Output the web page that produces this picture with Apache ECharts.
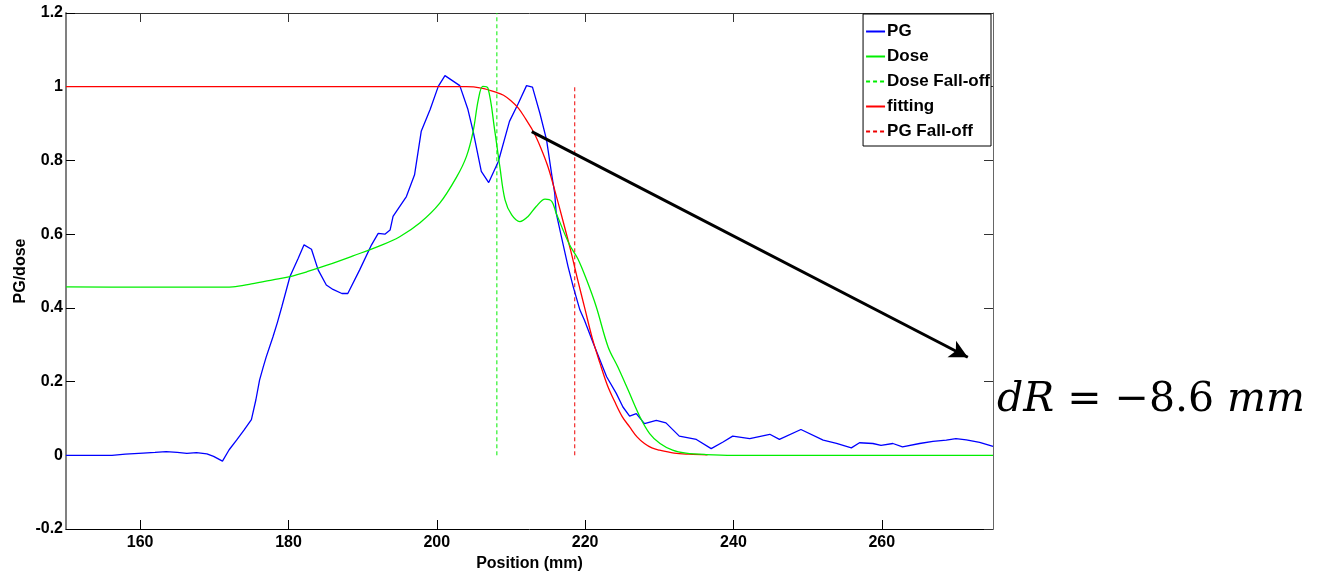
<!DOCTYPE html>
<html>
<head>
<meta charset="utf-8">
<script src="https://cdn.jsdelivr.net/npm/echarts@6/dist/echarts.min.js"></script>
<style>
html,body{margin:0;padding:0;background:#fff;}
#chart{width:1321px;height:572px;}
</style>
</head>
<body>
<div id="chart"></div>
<script>
// ---- data ----
const xTicks = [160, 180, 200, 220, 240, 260];
const seriesNames = ['PG', 'Dose', 'Dose Fall-off', 'fitting', 'PG Fall-off'];

const pgData = [[150,0],[156.2,0],[158,0.003],[160.4,0.006],[162,0.008],[163.5,0.01],[165,0.008],[166.3,0.005],[167.6,0.007],[169,0.004],[169.9,-0.003],[171.1,-0.016],[172,0.015],[173,0.041],[174,0.068],[175,0.097],[175.6,0.15],[176.1,0.204],[176.6,0.24],[177,0.267],[177.9,0.321],[178.5,0.36],[179.1,0.403],[180.2,0.485],[181.3,0.534],[182.1,0.571],[183.1,0.559],[184,0.503],[185.1,0.462],[186,0.45],[187.2,0.439],[188,0.439],[189.6,0.503],[191.2,0.571],[192.1,0.602],[193,0.6],[193.7,0.611],[194.1,0.648],[195.9,0.702],[197,0.761],[197.9,0.879],[199.1,0.938],[200.2,1.001],[201.1,1.03],[203.1,1.003],[204.2,0.938],[204.9,0.879],[206,0.77],[207,0.74],[208.3,0.797],[209.8,0.906],[211,0.955],[212.1,1.003],[212.9,0.999],[213.9,0.928],[214.8,0.856],[215.5,0.761],[215.9,0.711],[216.1,0.657],[217,0.575],[217.7,0.512],[218.4,0.457],[219.3,0.394],[219.9,0.367],[221.1,0.304],[222.9,0.213],[224.2,0.168],[225.1,0.131],[226,0.106],[226.9,0.113],[228,0.086],[229.6,0.095],[230.9,0.088],[232.7,0.052],[235,0.043],[237,0.018],[238.6,0.036],[239.9,0.052],[242.2,0.045],[244.9,0.057],[246.2,0.043],[249.1,0.07],[252.1,0.041],[253.9,0.032],[255.9,0.02],[257,0.034],[258.8,0.032],[259.9,0.027],[261.5,0.032],[262.8,0.023],[265.1,0.032],[266.9,0.038],[268.7,0.041],[270,0.045],[271.4,0.042],[273.2,0.035],[275,0.024]];

const doseData = [[150,0.457],[160,0.456],[170,0.456],[172.5,0.457],[175,0.465],[177.9,0.476],[180.2,0.485],[182.5,0.498],[185.1,0.515],[188.7,0.541],[192.3,0.568],[195,0.593],[197.7,0.63],[200.4,0.684],[202.7,0.756],[204,0.811],[204.9,0.879],[205.6,0.965],[206.2,1.001],[206.9,0.996],[207.8,0.883],[208.5,0.783],[209.2,0.693],[210.1,0.652],[211.2,0.634],[212.3,0.648],[213.4,0.675],[214.6,0.695],[215.5,0.689],[216.1,0.657],[217.9,0.571],[219,0.534],[220.2,0.476],[221.5,0.403],[223.1,0.294],[224.4,0.24],[225.8,0.177],[227.4,0.104],[228.7,0.059],[230.1,0.032],[231.8,0.014],[233.6,0.006],[236.3,0.002],[240,0],[275,0]];

const fittingData = [[150,1],[204,1],[206,0.996],[208,0.985],[209,0.977],[210,0.962],[211,0.942],[212,0.912],[213,0.879],[214,0.835],[215,0.782],[216,0.712],[217,0.637],[218,0.56],[219,0.476],[220,0.395],[221,0.315],[222,0.25],[223,0.19],[224,0.145],[225,0.105],[226,0.077],[227,0.05],[228,0.032],[229,0.02],[230,0.014],[232,0.006],[234,0.003],[236.5,0.001]];

const doseFallOff = [[208.1,0],[208.1,1.2]];
const pgFallOff = [[218.6,0],[218.6,1]];

const arrowStart = [212.8, 0.878];
const arrowEnd = [271.6, 0.266];
const annotationParts = ['dR', ' = −8.6 ', 'mm'];

// ---- chart ----
const chart = echarts.init(document.getElementById('chart'), null, {renderer: 'canvas'});
const labelFont = {fontFamily: 'Liberation Sans', fontWeight: 'bold', fontSize: 16, color: '#000'};

const option = {
  backgroundColor: '#fff',
  animation: false,
  grid: {left: 66, right: 328, top: 13, bottom: 43, show: false, containLabel: false, outerBoundsMode: 'none'},
  legend: {
    data: seriesNames,
    orient: 'vertical',
    right: 330,
    top: 14,
    itemWidth: 19,
    itemHeight: 15,
    itemGap: 8,
    padding: [9, 1, 6, 2],
    backgroundColor: '#fff',
    borderColor: '#000',
    borderWidth: 1,
    borderRadius: 0,
    itemStyle: {opacity: 0},
    textStyle: {fontFamily: 'Liberation Sans', fontWeight: 'bold', fontSize: 17, color: '#000', padding: [0, 0, 0, -3], lineHeight: 15},
    selectedMode: false
  },
  xAxis: [{
    type: 'value', min: 150, max: 275,
    name: 'Position (mm)', nameLocation: 'middle', nameGap: 27,
    nameTextStyle: labelFont,
    axisLine: {show: true, onZero: false, lineStyle: {color: '#000', width: 1}},
    axisTick: {show: true, inside: true, length: 9, customValues: xTicks, lineStyle: {color: '#000'}},
    axisLabel: Object.assign({}, labelFont, {margin: 6, customValues: xTicks}),
    splitLine: {show: false}
  }, {
    type: 'value', min: 150, max: 275, position: 'top',
    axisLine: {show: true, onZero: false, lineStyle: {color: '#333', width: 1}},
    axisTick: {show: true, inside: true, length: 9, customValues: xTicks, lineStyle: {color: '#333'}},
    axisLabel: {show: false},
    splitLine: {show: false}
  }],
  yAxis: [{
    type: 'value', min: -0.2, max: 1.2, interval: 0.2,
    name: 'PG/dose', nameLocation: 'middle', nameGap: 37, nameRotate: 90, nameMoveOverlap: false,
    nameTextStyle: labelFont,
    axisLine: {show: true, onZero: false, lineStyle: {color: '#808080', width: 2}},
    axisTick: {show: true, inside: true, length: 9, lineStyle: {color: '#000'}},
    axisLabel: Object.assign({}, labelFont, {margin: 3, formatter: v => String(Math.round(v * 10) / 10)}),
    splitLine: {show: false}
  }, {
    type: 'value', min: -0.2, max: 1.2, interval: 0.2, position: 'right',
    axisLine: {show: true, onZero: false, lineStyle: {color: '#666', width: 1}},
    axisTick: {show: true, inside: true, length: 9, lineStyle: {color: '#333'}},
    axisLabel: {show: false},
    splitLine: {show: false}
  }],
  series: [
    {name: 'PG', type: 'line', data: pgData, symbol: 'none', lineStyle: {color: '#0000ff', width: 1.3}, itemStyle: {color: '#0000ff'}, z: 3,
     markLine: {silent: true, symbol: ['none', 'arrow'], symbolSize: [14, 18], label: {show: false},
       lineStyle: {color: '#000', width: 3, type: 'solid'},
       data: [[{coord: arrowStart}, {coord: arrowEnd}]]}},
    {name: 'Dose', type: 'line', data: doseData, symbol: 'none', smooth: 0.35, lineStyle: {color: '#00ee00', width: 1.3}, itemStyle: {color: '#00ee00'}, z: 4},
    {name: 'Dose Fall-off', type: 'line', data: doseFallOff, symbol: 'none', lineStyle: {color: '#00ee00', width: 1, type: [4, 3]}, itemStyle: {color: '#00ee00'}, z: 2},
    {name: 'fitting', type: 'line', data: fittingData, symbol: 'none', smooth: 0.35, lineStyle: {color: '#ff0000', width: 1.3}, itemStyle: {color: '#ff0000'}, z: 3},
    {name: 'PG Fall-off', type: 'line', data: pgFallOff, symbol: 'none', lineStyle: {color: '#ee0000', width: 1, type: [4, 3]}, itemStyle: {color: '#ee0000'}, z: 2}
  ],
  graphic: [{
    type: 'text', left: 997, top: 380,
    style: {
      text: '{a|' + annotationParts[0] + '}{b|' + annotationParts[1] + '}{a|' + annotationParts[2] + '}',
      rich: {
        a: {fontFamily: 'DejaVu Serif', fontStyle: 'italic', fontSize: 41, fill: '#000'},
        b: {fontFamily: 'DejaVu Serif', fontSize: 41, fill: '#000'}
      }
    }
  }]
};
chart.setOption(option);
</script>
</body>
</html>
